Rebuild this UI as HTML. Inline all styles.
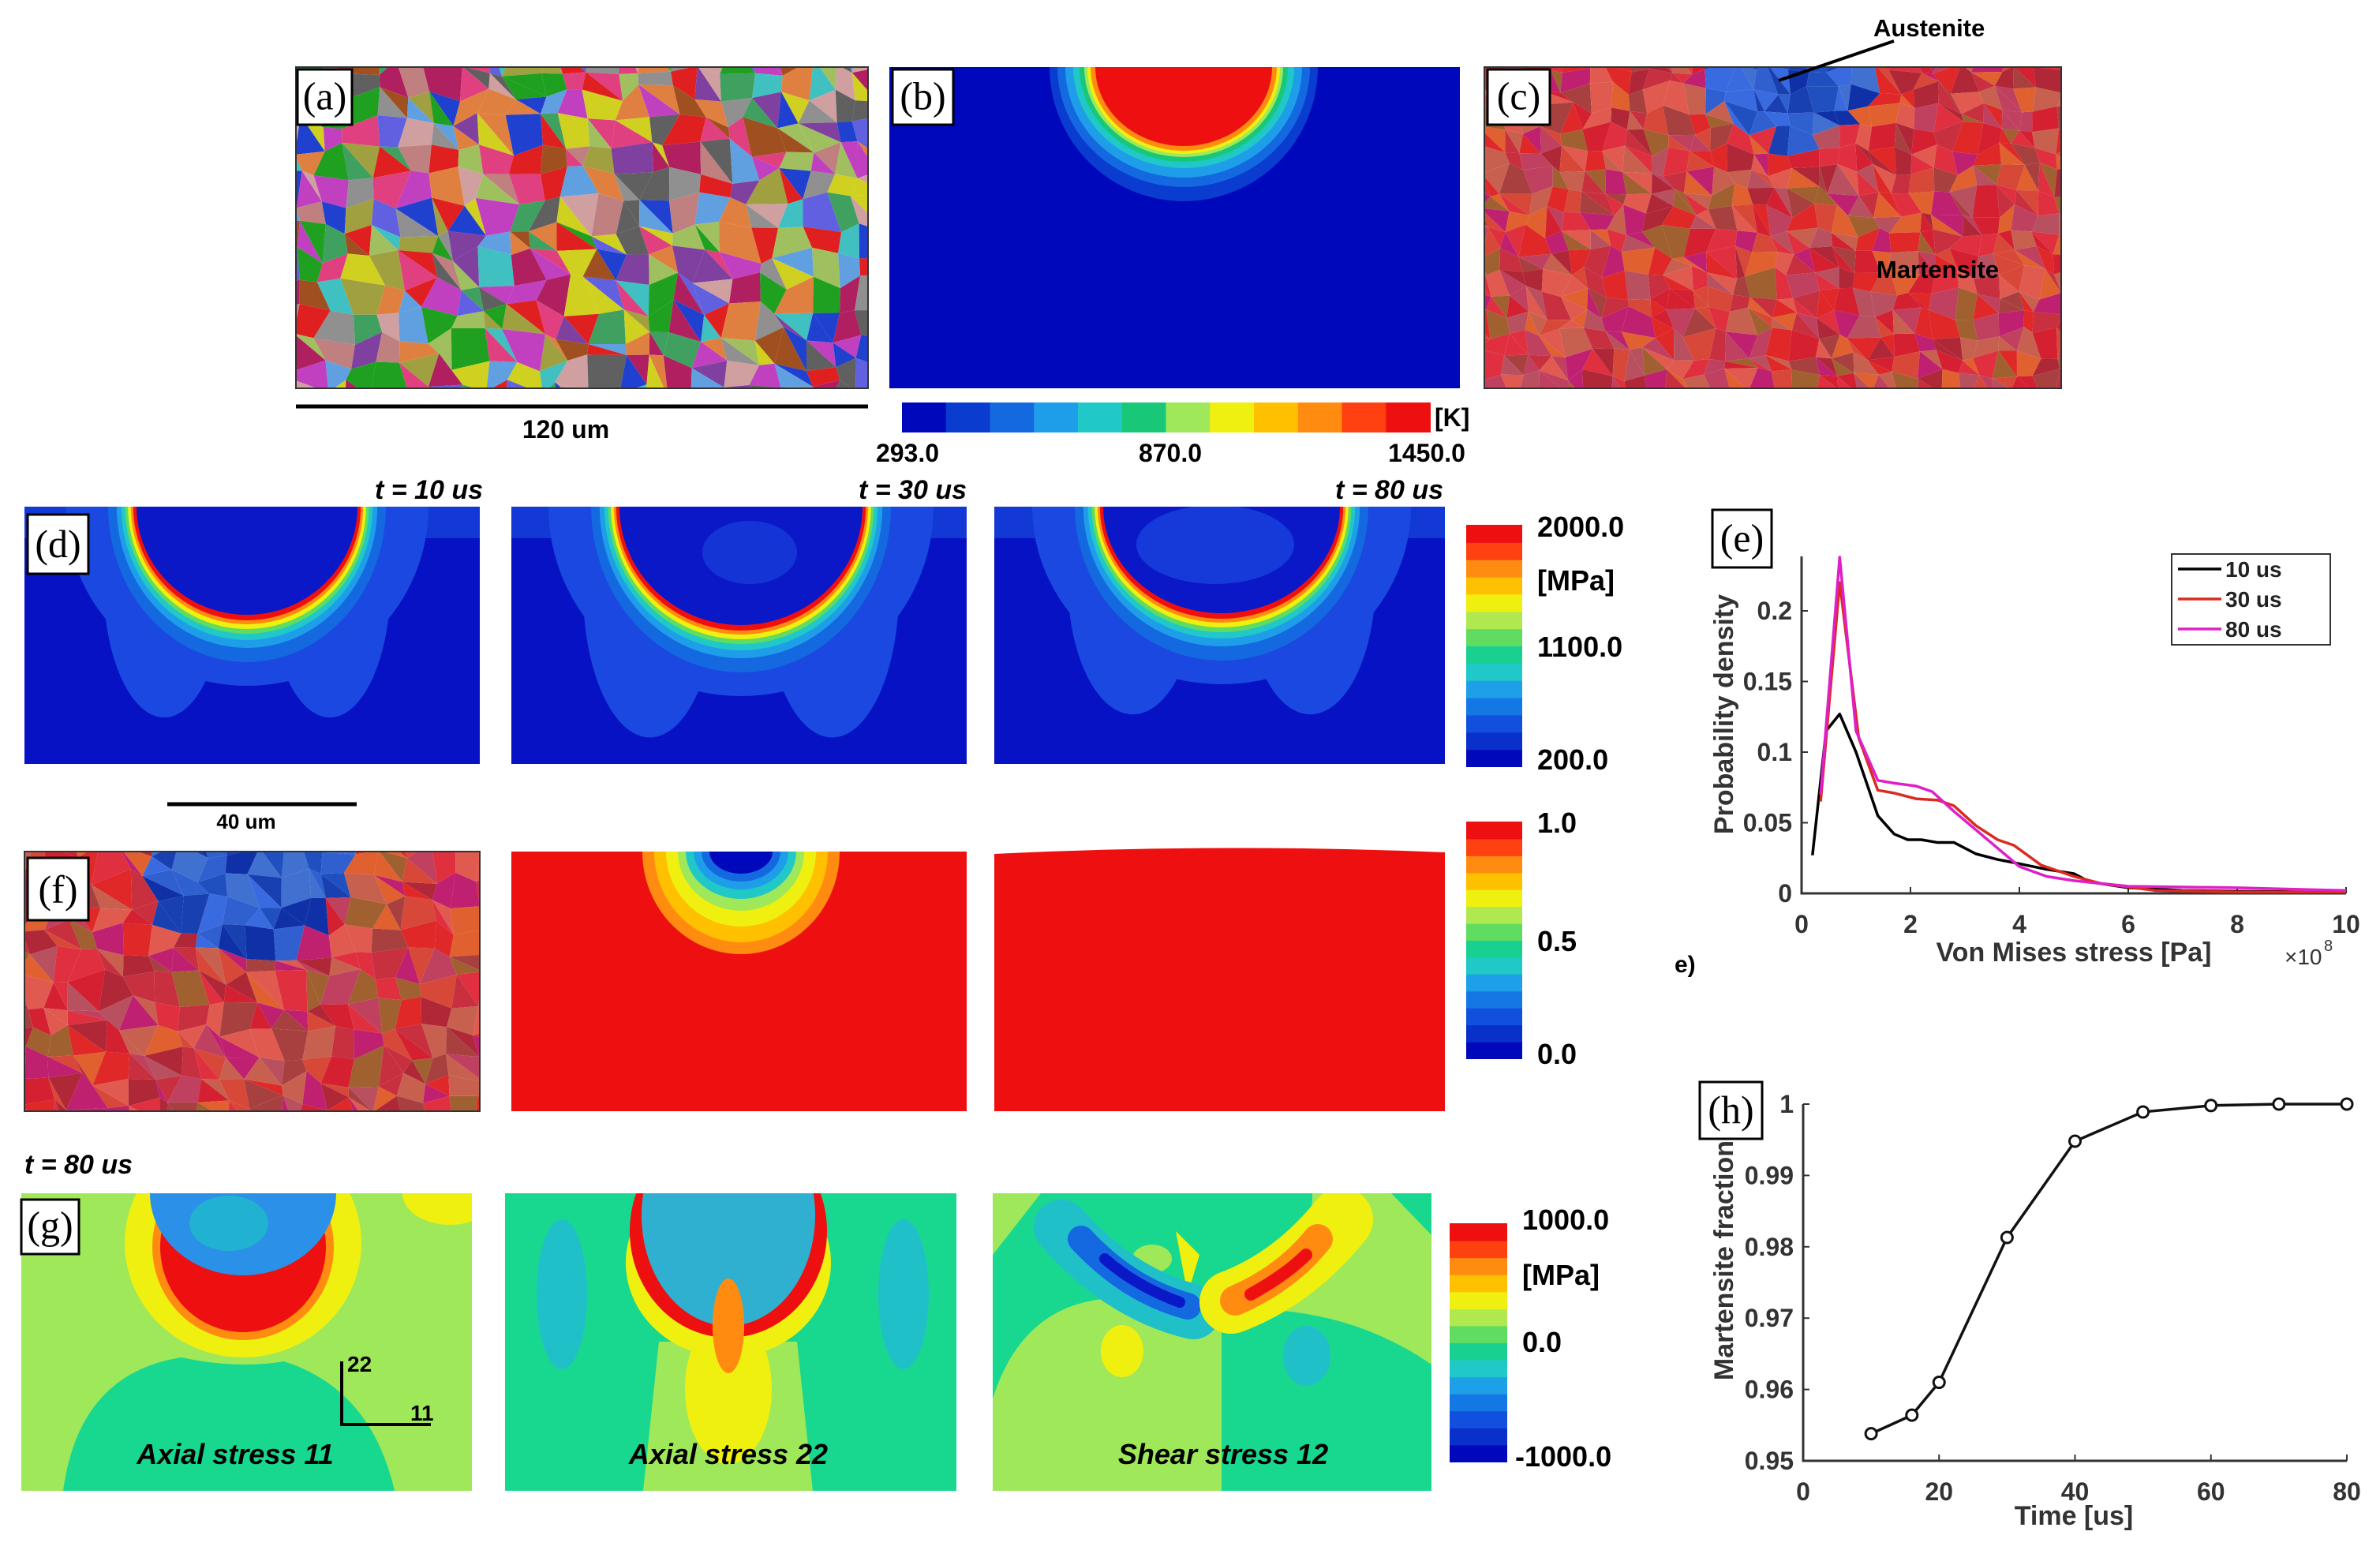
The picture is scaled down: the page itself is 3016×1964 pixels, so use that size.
<!DOCTYPE html>
<html><head><meta charset="utf-8"><style>
html,body{margin:0;padding:0;background:#fff}
svg{display:block}
text{font-family:"Liberation Sans",sans-serif}
.lb{font-family:"Liberation Serif",serif;font-size:50px}
.b{font-weight:bold}
</style></head><body>
<svg id="fig" width="3016" height="1964" viewBox="0 0 3016 1964" xmlns="http://www.w3.org/2000/svg">
<defs>
<clipPath id="cpA"><rect x="375" y="85" width="725" height="407"/></clipPath>
<clipPath id="cpB"><rect x="1127" y="85" width="723" height="407"/></clipPath>
<clipPath id="cpC"><rect x="1881" y="85" width="731" height="407"/></clipPath>
<clipPath id="cpD1"><rect x="31" y="642" width="577" height="326"/></clipPath>
<clipPath id="cpD2"><rect x="648" y="642" width="577" height="326"/></clipPath>
<clipPath id="cpD3"><rect x="1260" y="642" width="571" height="326"/></clipPath>
<clipPath id="cpF1"><rect x="31" y="1079" width="577" height="329"/></clipPath>
<clipPath id="cpF2"><rect x="648" y="1079" width="577" height="329"/></clipPath>
<clipPath id="cpG1"><rect x="27" y="1512" width="571" height="377"/></clipPath>
<clipPath id="cpG2"><rect x="640" y="1512" width="572" height="377"/></clipPath>
<clipPath id="cpG3"><rect x="1258" y="1512" width="556" height="377"/></clipPath>
</defs>
<g id="fields"></g>
<g id="overlay"></g>
<g id="chartE"></g>
<g id="chartH"></g>
</svg>
<script>
// ---- chart (e) data: Von Mises stress (x1e8 Pa) vs probability density
const eXTicks = [0, 2, 4, 6, 8, 10];
const eYTicks = [0, 0.05, 0.1, 0.15, 0.2];
const eYTickLabels = ["0", "0.05", "0.1", "0.15", "0.2"];
const eSeriesNames = ["10 us", "30 us", "80 us"];
const eX10 = [0.2,0.45,0.7,1.0,1.4,1.7,1.95,2.2,2.5,2.8,3.2,3.6,4.0,4.5,5.0,5.3,6.0,7.0,8.0,10.0];
const eY10 = [0.027,0.115,0.127,0.1,0.055,0.042,0.038,0.038,0.036,0.036,0.028,0.024,0.021,0.017,0.014,0.008,0.004,0.002,0.0015,0.001];
const eX30 = [0.35,0.7,1.05,1.4,1.7,2.1,2.5,2.8,3.2,3.6,3.9,4.4,5.0,5.5,6.5,8.0,10.0];
const eY30 = [0.065,0.22,0.11,0.073,0.071,0.067,0.066,0.062,0.048,0.038,0.034,0.02,0.012,0.007,0.002,0.001,0.001];
const eX80 = [0.35,0.7,1.0,1.4,1.7,2.1,2.4,2.8,3.2,3.6,4.0,4.5,5.0,5.5,6.0,8.0,10.0];
const eY80 = [0.07,0.238,0.115,0.08,0.078,0.076,0.072,0.058,0.045,0.032,0.019,0.012,0.009,0.007,0.005,0.004,0.002];
// ---- chart (h) data: martensite fraction vs time
const hXTicks = [0, 20, 40, 60, 80];
const hYTicks = [0.95, 0.96, 0.97, 0.98, 0.99, 1];
const hYTickLabels = ["0.95", "0.96", "0.97", "0.98", "0.99", "1"];
const hTime = [10, 16, 20, 30, 40, 50, 60, 70, 80];
const hFrac = [0.9538, 0.9564, 0.961, 0.9813, 0.9948, 0.9989, 0.9998, 1.0, 1.0];

const NS = "http://www.w3.org/2000/svg";
function mk(parent, tag, attrs, txt) {
  const el = document.createElementNS(NS, tag);
  for (const k in attrs) el.setAttribute(k, attrs[k]);
  if (txt !== undefined) el.textContent = txt;
  parent.appendChild(el);
  return el;
}
const fields = document.getElementById('fields');
const overlay = document.getElementById('overlay');

let seed = 12345;
function rnd() { seed = (seed * 1103515245 + 12345) & 0x7fffffff; return seed / 0x7fffffff; }

const CB = ['#0008bc','#0a3cd0','#1468e0','#1e9ee8','#20c8c8','#18c878','#9ee85a','#f0f010','#ffc000','#ff8c10','#ff4010','#ee1010'];

function grains(g, x, y, w, h, cell, colorFn) {
  const x0 = x - cell, y0 = y - cell;
  const nx = Math.ceil(w / cell) + 3, ny = Math.ceil(h / cell) + 3;
  const P = [];
  for (let i = 0; i <= nx; i++) { P[i] = []; for (let j = 0; j <= ny; j++) {
    P[i][j] = [x0 + i * cell + (rnd() - 0.5) * cell * 0.7, y0 + j * cell + (rnd() - 0.5) * cell * 0.7];
  } }
  for (let i = 0; i < nx; i++) for (let j = 0; j < ny; j++) {
    const a = P[i][j], b = P[i+1][j], c = P[i+1][j+1], d = P[i][j+1];
    const cx = (a[0]+c[0])/2, cy = (a[1]+c[1])/2;
    if (rnd() < 0.4) {
      mk(g, 'polygon', {points: [a,b,c].map(p=>p.join(',')).join(' '), fill: colorFn(cx, cy)});
      mk(g, 'polygon', {points: [a,c,d].map(p=>p.join(',')).join(' '), fill: colorFn(cx, cy)});
    } else {
      mk(g, 'polygon', {points: [a,b,c,d].map(p=>p.join(',')).join(' '), fill: colorFn(cx, cy)});
    }
  }
}
function pick(arr) { return arr[Math.floor(rnd() * arr.length)]; }
const palA = ['#e02020','#20a020','#2040d0','#d0d020','#a05020','#c040c0','#40c0c0','#909090','#e08040','#6060e0','#a0a040','#c08080','#40a060','#b02060','#8040a0','#d0a0a0','#60a0e0','#a0c060','#e04080','#606060'];
const palR = ['#d42030','#c83040','#e03040','#b02838','#e05a50','#c04060','#a84040','#d84838','#b85060','#e02828','#c86050','#e06030','#a06030','#c02070'];
const palBl = ['#2050c0','#3060d0','#1840b0','#4070d0','#1030a8','#3a6ae0'];

// (a) grains
let gA = mk(fields, 'g', {'clip-path': 'url(#cpA)'});


grains(gA, 375, 85, 725, 407, 34, () => pick(palA));
mk(fields, 'rect', {x:375,y:85,width:725,height:407,fill:'none',stroke:'#333','stroke-width':2});

// (b) temperature field
let gB = mk(fields, 'g', {'clip-path': 'url(#cpB)'});


mk(gB, 'rect', {x:1127,y:85,width:723,height:407,fill:CB[0]});
const bBands = [[170,170,CB[1]],[160,152,CB[2]],[150,140,CB[3]],[140,128,CB[4]],[132,120,CB[5]],[126,114,CB[6]],[122,110,CB[7]],[118,106,CB[9]],[112,100,CB[11]]];
bBands.forEach(b => mk(gB, 'ellipse', {cx:1500, cy:85, rx:b[0], ry:b[1], fill:b[2]}));

// (c) phase map
let gC = mk(fields, 'g', {'clip-path': 'url(#cpC)'});


grains(gC, 1881, 85, 731, 407, 26, (x, y) => {
  const dx = (x - 2270) / 110, dy = (y - 85) / 100;
  return (dx*dx + dy*dy < 1) ? pick(palBl) : pick(palR);
});
mk(fields, 'rect', {x:1881,y:85,width:731,height:407,fill:'none',stroke:'#333','stroke-width':2});

function colorbar(name, x, y, w, h, horiz) {
  const g = mk(overlay, 'g', {});
  
  
  const n = horiz ? 12 : 14;
  const cols = horiz ? CB : ['#0008bc','#0a30cc','#1050dc','#1478e4','#1ea0e8','#20c8c8','#18d090','#60dc60','#b0e850','#f0f010','#ffc000','#ff8c10','#ff4010','#ee1010'];
  for (let i = 0; i < n; i++) {
    if (horiz) mk(g, 'rect', {x: x + i*w/n, y, width: w/n + 1, height: h, fill: cols[i]});
    else mk(g, 'rect', {x, y: y + h - (i+1)*h/n, width: w, height: h/n + 1, fill: cols[i]});
  }
  return g;
}
colorbar('temperature-colorbar', 1143, 510, 669, 38, true);
colorbar('stress-colorbar-d', 1858, 665, 71, 306, false);
colorbar('fraction-colorbar-f', 1858, 1041, 71, 300, false);
colorbar('stress-colorbar-g', 1837, 1550, 73, 302, false);

function meltPool(clip, px, py, pw, ph, cx, R, D, name) {
  const g = mk(fields, 'g', {'clip-path': 'url(#' + clip + ')'});
  
  
  mk(g, 'rect', {x:px,y:py,width:pw,height:ph,fill:'#0612c4'});
  mk(g, 'rect', {x:px,y:py,width:pw,height:40,fill:'#1238d6'});
  mk(g, 'ellipse', {cx: cx - R*0.75, cy: py + D*0.7, rx: R*0.55, ry: D*1.25, fill:'#1a48e0'});
  mk(g, 'ellipse', {cx: cx + R*0.75, cy: py + D*0.7, rx: R*0.55, ry: D*1.25, fill:'#1a48e0'});
  mk(g, 'ellipse', {cx, cy: py, rx: R+90, ry: D+90, fill:'#1a48e0'});
  const bands = [[60,'#1468e0'],[42,'#1e9ee8'],[32,'#20c8c8'],[24,'#60dc60'],[18,'#f0f010'],[12,'#ff8c10'],[7,'#ee1010']];
  bands.forEach(b => mk(g, 'ellipse', {cx, cy: py, rx: R + b[0]*0.6, ry: D + b[0], fill: b[1]}));
  mk(g, 'ellipse', {cx, cy: py, rx: R, ry: D, fill:'#0a18c8'});
  return g;
}
meltPool('cpD1', 31, 642, 577, 326, 313, 140, 137, 'panel-d-10us');
let gd2 = meltPool('cpD2', 648, 642, 577, 326, 939, 154, 150, 'panel-d-30us');
mk(gd2, 'ellipse', {cx: 950, cy: 700, rx: 60, ry: 40, fill: '#1a48e0', opacity: 0.6});
let gd3 = meltPool('cpD3', 1260, 642, 571, 326, 1548, 150, 135, 'panel-d-80us');
mk(gd3, 'ellipse', {cx: 1540, cy: 690, rx: 100, ry: 50, fill: '#1a48e0', opacity: 0.7});

// (f)
let gF1 = mk(fields, 'g', {'clip-path': 'url(#cpF1)'});


grains(gF1, 31, 1079, 577, 329, 32, (x, y) => {
  const dx = (x - 313) / 128, dy = (y - 1079) / 135;
  return (dx*dx + dy*dy < 1) ? pick(palBl) : pick(palR);
});
mk(fields, 'rect', {x:31,y:1079,width:577,height:329,fill:'none',stroke:'#333','stroke-width':2});
let gF2 = mk(fields, 'g', {'clip-path': 'url(#cpF2)'});


mk(gF2, 'rect', {x:648,y:1079,width:577,height:329,fill:'#ee1010'});
[[125,130,'#ff8c10'],[110,115,'#ffc000'],[95,95,'#f0f010'],[80,75,'#9ee85a'],[70,60,'#20c8c8'],[60,48,'#1e9ee8'],[50,38,'#1468e0'],[40,28,'#0008bc']].forEach(b =>
  mk(gF2, 'ellipse', {cx: 939, cy: 1079, rx: b[0], ry: b[1], fill: b[2]}));
let f3 = mk(fields, 'path', {d:'M1260,1082 Q1545,1068 1831,1080 L1831,1408 L1260,1408 Z', fill:'#ee1010'});



// (g)
const LG = '#9ee85a', GR = '#18d890', CY = '#20c0c8', YE = '#f0f010', RE = '#ee1010', OR = '#ff8c10', BL = '#1e8ee8';
let g1 = mk(fields, 'g', {'clip-path': 'url(#cpG1)'});


mk(g1, 'rect', {x:27,y:1512,width:571,height:377,fill:LG});
mk(g1, 'path', {d:'M80,1889 Q100,1740 230,1720 Q300,1735 360,1725 Q470,1760 500,1889 Z', fill:GR});
mk(g1, 'ellipse', {cx:570, cy:1512, rx:60, ry:40, fill:YE});
mk(g1, 'ellipse', {cx:308, cy:1575, rx:150, ry:145, fill:YE});
mk(g1, 'ellipse', {cx:308, cy:1580, rx:115, ry:118, fill:OR});
mk(g1, 'ellipse', {cx:308, cy:1580, rx:105, ry:108, fill:RE});
mk(g1, 'ellipse', {cx:308, cy:1512, rx:118, ry:104, fill:'#2a90e8'});
mk(g1, 'ellipse', {cx:290, cy:1550, rx:50, ry:35, fill:'#20c0c8', opacity:0.7});
let g2 = mk(fields, 'g', {'clip-path': 'url(#cpG2)'});


mk(g2, 'rect', {x:640,y:1512,width:572,height:377,fill:GR});
mk(g2, 'path', {d:'M815,1889 L835,1700 L1010,1700 L1030,1889 Z', fill:LG});
mk(g2, 'ellipse', {cx:712, cy:1640, rx:32, ry:95, fill:CY});
mk(g2, 'ellipse', {cx:1145, cy:1640, rx:32, ry:95, fill:CY});
mk(g2, 'ellipse', {cx:923, cy:1760, rx:55, ry:95, fill:YE});
mk(g2, 'ellipse', {cx:923, cy:1600, rx:130, ry:120, fill:YE});
mk(g2, 'ellipse', {cx:923, cy:1560, rx:125, ry:135, fill:RE});
mk(g2, 'ellipse', {cx:923, cy:1540, rx:110, ry:140, fill:'#30b0d0'});
mk(g2, 'ellipse', {cx:923, cy:1680, rx:20, ry:60, fill:OR});
let g3 = mk(fields, 'g', {'clip-path': 'url(#cpG3)'});


mk(g3, 'rect', {x:1258,y:1512,width:556,height:377,fill:GR});
mk(g3, 'path', {d:'M1258,1512 L1319,1512 L1258,1590 Z', fill:LG});
mk(g3, 'path', {d:'M1258,1772 Q1300,1640 1430,1645 Q1500,1650 1548,1660 L1548,1889 L1258,1889 Z', fill:LG});
mk(g3, 'path', {d:'M1640,1512 L1763,1512 L1814,1565 L1814,1729 Q1700,1650 1548,1660 Z', fill:LG});
mk(g3, 'ellipse', {cx:1422, cy:1712, rx:27, ry:33, fill:YE});
mk(g3, 'ellipse', {cx:1656, cy:1718, rx:30, ry:38, fill:CY});
mk(g3, 'ellipse', {cx:1535, cy:1512, rx:128, ry:142, fill:GR});
mk(g3, 'path', {d:'M1490,1560 L1520,1590 L1505,1640 Z', fill:YE});
mk(g3, 'ellipse', {cx:1460, cy:1595, rx:25, ry:18, fill:LG});
mk(g3, 'path', {d:'M1345,1555 Q1420,1640 1512,1662', fill:'none', stroke:CY, 'stroke-width':70, 'stroke-linecap':'round'});
mk(g3, 'path', {d:'M1370,1570 Q1430,1635 1505,1655', fill:'none', stroke:'#1468e0', 'stroke-width':34, 'stroke-linecap':'round'});
mk(g3, 'path', {d:'M1400,1595 Q1440,1630 1495,1650', fill:'none', stroke:'#0a18c8', 'stroke-width':14, 'stroke-linecap':'round'});
mk(g3, 'path', {d:'M1560,1650 Q1640,1620 1700,1545', fill:'none', stroke:YE, 'stroke-width':80, 'stroke-linecap':'round'});
mk(g3, 'path', {d:'M1565,1648 Q1630,1620 1670,1570', fill:'none', stroke:OR, 'stroke-width':38, 'stroke-linecap':'round'});
mk(g3, 'path', {d:'M1585,1640 Q1630,1615 1655,1590', fill:'none', stroke:RE, 'stroke-width':16, 'stroke-linecap':'round'});

// ---------- overlay text ----------
function labelBox(name, x, y, w, h, t) {
  const g = mk(overlay, 'g', {});
  
  
  mk(g, 'rect', {x, y, width:w, height:h, fill:'#fff', stroke:'#000', 'stroke-width':3});
  mk(g, 'text', {x: x + w/2, y: y + h*0.72, 'text-anchor':'middle', class:'lb'}, t);
}
labelBox('label-a', 377, 88, 69, 70, '(a)');
labelBox('label-b', 1131, 88, 77, 70, '(b)');
labelBox('label-c', 1885, 88, 79, 70, '(c)');
labelBox('label-d', 35, 652, 77, 75, '(d)');
labelBox('label-f', 35, 1087, 77, 79, '(f)');
labelBox('label-g', 27, 1520, 73, 69, '(g)');
labelBox('label-e', 2170, 646, 75, 73, '(e)');
labelBox('label-h', 2154, 1371, 79, 72, '(h)');

function txt(name, x, y, s, size, anchor, extra) {
  const t = mk(overlay, 'text', Object.assign({x, y, 'font-size': size, 'font-weight':'bold', 'text-anchor': anchor || 'start'}, extra || {}), s);
  
  
  return t;
}
let sb = mk(overlay, 'line', {x1:375, y1:515, x2:1100, y2:515, stroke:'#000', 'stroke-width':5});


txt('scale-label-120um', 717, 555, '120 um', 32, 'middle');
let al = mk(overlay, 'line', {x1:2400, y1:52, x2:2254, y2:102, stroke:'#000', 'stroke-width':4});


txt('austenite-label', 2374, 46, 'Austenite', 31, 'start');
txt('martensite-label', 2378, 352, 'Martensite', 31, 'start');
txt('k-unit', 1818, 540, '[K]', 32, 'start');
txt('temp-tick-min', 1150, 585, '293.0', 32, 'middle');
txt('temp-tick-mid', 1483, 585, '870.0', 32, 'middle');
txt('temp-tick-max', 1808, 585, '1450.0', 32, 'middle');
txt('time-10us', 612, 632, 't = 10 us', 34, 'end', {'font-style':'italic'});
txt('time-30us', 1225, 632, 't = 30 us', 34, 'end', {'font-style':'italic'});
txt('time-80us', 1829, 632, 't = 80 us', 34, 'end', {'font-style':'italic'});
txt('d-tick-max', 1948, 680, '2000.0', 36, 'start');
txt('d-unit', 1948, 748, '[MPa]', 36, 'start');
txt('d-tick-mid', 1948, 832, '1100.0', 36, 'start');
txt('d-tick-min', 1948, 975, '200.0', 36, 'start');
let sb2 = mk(overlay, 'line', {x1:212, y1:1019, x2:452, y2:1019, stroke:'#000', 'stroke-width':5});


txt('scale-label-40um', 312, 1050, '40 um', 26, 'middle');
txt('f-tick-max', 1948, 1055, '1.0', 36, 'start');
txt('f-tick-mid', 1948, 1205, '0.5', 36, 'start');
txt('f-tick-min', 1948, 1348, '0.0', 36, 'start');
txt('time-80us-g', 31, 1487, 't = 80 us', 34, 'start', {'font-style':'italic'});
txt('g-tick-max', 1929, 1558, '1000.0', 36, 'start');
txt('g-unit', 1929, 1628, '[MPa]', 36, 'start');
txt('g-tick-mid', 1929, 1713, '0.0', 36, 'start');
txt('g-tick-min', 1920, 1858, '-1000.0', 36, 'start');
txt('title-axial-11', 298, 1855, 'Axial stress 11', 36, 'middle', {'font-style':'italic'});
txt('title-axial-22', 923, 1855, 'Axial stress 22', 36, 'middle', {'font-style':'italic'});
txt('title-shear-12', 1550, 1855, 'Shear stress 12', 36, 'middle', {'font-style':'italic'});
let ax = mk(overlay, 'path', {d:'M433,1725 L433,1805 L546,1805', fill:'none', stroke:'#000', 'stroke-width':4});


txt('axis-22-label', 440, 1738, '22', 28, 'start');
txt('axis-11-label', 520, 1800, '11', 28, 'start');
txt('panel-e-sub-label', 2122, 1232, 'e)', 30, 'start');

// ---------- chart (e) ----------
const gE = document.getElementById('chartE');


const eX0 = 2283, eX1 = 2973, eY0 = 1132, eYs = (1132 - 774) / 0.2;
const exs = v => eX0 + (v / 10) * (eX1 - eX0);
const eys = v => eY0 - v * eYs;
mk(gE, 'path', {d:`M${eX0},705 L${eX0},${eY0} L${eX1},${eY0}`, fill:'none', stroke:'#333', 'stroke-width':3});
eXTicks.forEach(t => {
  mk(gE, 'line', {x1:exs(t), y1:eY0, x2:exs(t), y2:eY0-8, stroke:'#333', 'stroke-width':2});
  const tl = mk(gE, 'text', {x:exs(t), y:eY0+50, 'text-anchor':'middle', 'font-size':32, 'font-weight':'bold', fill:'#333'}, String(t));
  
});
eYTicks.forEach((t, i) => {
  mk(gE, 'line', {x1:eX0, y1:eys(t), x2:eX0+8, y2:eys(t), stroke:'#333', 'stroke-width':2});
  const tl = mk(gE, 'text', {x:eX0-12, y:eys(t)+11, 'text-anchor':'end', 'font-size':32, 'font-weight':'bold', fill:'#333'}, eYTickLabels[i]);
  
});
const eyl = mk(gE, 'text', {x:0, y:0, transform:'translate(2196,905) rotate(-90)', 'text-anchor':'middle', 'font-size':34, 'font-weight':'bold', fill:'#333'}, 'Probability density');

const exl = mk(gE, 'text', {x:2628, y:1218, 'text-anchor':'middle', 'font-size':34, 'font-weight':'bold', fill:'#333'}, 'Von Mises stress [Pa]');

const exm = mk(gE, 'text', {x:2895, y:1222, 'font-size':28, fill:'#333'}, '×10');

mk(gE, 'text', {x:2945, y:1205, 'font-size':20, fill:'#333'}, '8');
const eCols = ['#000000', '#dd2a20', '#dd20c8'];
[[eX10, eY10], [eX30, eY30], [eX80, eY80]].forEach((s, k) => {
  const p = mk(gE, 'polyline', {points: s[0].map((x, i) => exs(x) + ',' + eys(s[1][i])).join(' '), fill:'none', stroke:eCols[k], 'stroke-width':3.5, 'stroke-linejoin':'round'});
  
  
});
const lg = mk(gE, 'g', {});


mk(lg, 'rect', {x:2752, y:702, width:201, height:115, fill:'#fff', stroke:'#333', 'stroke-width':2});
eSeriesNames.forEach((n, k) => {
  const yy = 721 + k * 38;
  mk(lg, 'line', {x1:2760, y1:yy, x2:2815, y2:yy, stroke:eCols[k], 'stroke-width':3.5});
  mk(lg, 'text', {x:2820, y:yy+10, 'font-size':28, 'font-weight':'bold', fill:'#222'}, n);
});

// ---------- chart (h) ----------
const gH = document.getElementById('chartH');


const hX0 = 2285, hX1 = 2974, hY0 = 1851, hY1 = 1399;
const hxs = v => hX0 + (v / 80) * (hX1 - hX0);
const hys = v => hY0 - (v - 0.95) / 0.05 * (hY0 - hY1);
mk(gH, 'path', {d:`M${hX0},${hY1} L${hX0},${hY0} L${hX1},${hY0}`, fill:'none', stroke:'#333', 'stroke-width':3});
hXTicks.forEach(t => {
  mk(gH, 'line', {x1:hxs(t), y1:hY0, x2:hxs(t), y2:hY0-8, stroke:'#333', 'stroke-width':2});
  const tl = mk(gH, 'text', {x:hxs(t), y:hY0+50, 'text-anchor':'middle', 'font-size':32, 'font-weight':'bold', fill:'#333'}, String(t));
  
});
hYTicks.forEach((t, i) => {
  mk(gH, 'line', {x1:hX0, y1:hys(t), x2:hX0+8, y2:hys(t), stroke:'#333', 'stroke-width':2});
  const tl = mk(gH, 'text', {x:hX0-12, y:hys(t)+11, 'text-anchor':'end', 'font-size':32, 'font-weight':'bold', fill:'#333'}, hYTickLabels[i]);
  
});
const hyl = mk(gH, 'text', {x:0, y:0, transform:'translate(2196,1597) rotate(-90)', 'text-anchor':'middle', 'font-size':34, 'font-weight':'bold', fill:'#333'}, 'Martensite fraction');

const hxl = mk(gH, 'text', {x:2628, y:1932, 'text-anchor':'middle', 'font-size':34, 'font-weight':'bold', fill:'#333'}, 'Time [us]');

const hl = mk(gH, 'polyline', {points: hTime.map((t, i) => hxs(t) + ',' + hys(hFrac[i])).join(' '), fill:'none', stroke:'#111', 'stroke-width':3.5});


hTime.forEach((t, i) => {
  const c = mk(gH, 'circle', {cx:hxs(t), cy:hys(hFrac[i]), r:7, fill:'#fff', stroke:'#111', 'stroke-width':3});
  
  
});
</script>
</body></html>
